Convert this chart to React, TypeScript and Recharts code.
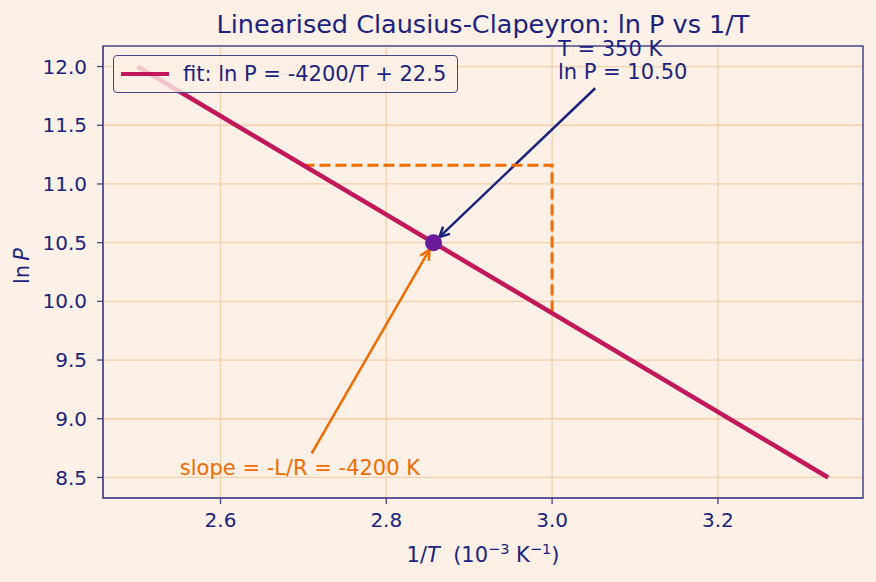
import {
  ComposedChart,
  Scatter,
  XAxis,
  YAxis,
  CartesianGrid,
  ReferenceArea,
  ReferenceLine,
  ReferenceDot,
} from 'recharts';

const BG = '#fdf0e6';
const NAVY = '#1a237e';
const SPINE = '#45458c';
const FIT = '#c2185b';
const ORANGE = '#ef6c00';
const POINT = '#6a1b9a';
const GRID = '#f7d0aa';
const FONT = '"DejaVu Sans", sans-serif';

// axis limits (matplotlib 5% margins around the data)
const X_DOMAIN = [2.4583, 3.375];
const Y_DOMAIN = [8.325, 12.175];
const X_TICKS = [2.6, 2.8, 3.0, 3.2];
const Y_TICKS = [8.5, 9.0, 9.5, 10.0, 10.5, 11.0, 11.5, 12.0];

// fit: ln P = -4200/T + 22.5, endpoints
const FIT_LINE = [
  { x: 2.5, y: 12.0 },
  { x: 3.333, y: 8.5 },
];

// rise / run guide
const SLOPE_GUIDE = [
  { x: 2.7, y: 11.16 },
  { x: 3.0, y: 11.16 },
  { x: 3.0, y: 9.9 },
];

const MARKED = [{ x: 2.857, y: 10.5 }];

const POINT_ARROW_FROM = { x: 3.052, y: 11.815 };
const SLOPE_ARROW_FROM = { x: 2.71, y: 8.705 };
const POINT_LABEL_AT = { x: 3.007, y: 12.09 };
const POINT_LABEL = ['T = 350 K', 'ln P = 10.50'];
const SLOPE_LABEL_AT = { x: 2.551, y: 8.518 };
const SLOPE_LABEL = 'slope = -L/R = -4200 K';
const LEGEND_LABEL = 'fit: ln P = -4200/T + 22.5';

const noDot = () => <g />;

function arrowShape(color: string) {
  return (p: any) => {
    const { x1, y1, x2, y2 } = p;
    const dx = x2 - x1;
    const dy = y2 - y1;
    const len = Math.sqrt(dx * dx + dy * dy) || 1;
    const ux = dx / len;
    const uy = dy / len;
    const shrink = 8;
    const tx = x2 - ux * shrink;
    const ty = y2 - uy * shrink;
    const hl = 10;
    const hw = 5;
    const bx = tx - ux * hl;
    const by = ty - uy * hl;
    return (
      <g>
        <line x1={x1} y1={y1} x2={tx} y2={ty} stroke={color} strokeWidth={2.5} />
        <polyline
          points={`${bx - uy * hw},${by + ux * hw} ${tx},${ty} ${bx + uy * hw},${by - ux * hw}`}
          fill="none"
          stroke={color}
          strokeWidth={2.5}
        />
      </g>
    );
  };
}

export default function App() {
  return (
    <div
      style={{
        position: 'absolute',
        left: 0,
        top: 0,
        width: 876,
        height: 582,
        background: BG,
        fontFamily: FONT,
      }}
    >
      <ComposedChart
        width={876}
        height={582}
        margin={{ top: 46, right: 13, bottom: 0, left: 0 }}
        style={{ fontFamily: FONT }}
      >
        <CartesianGrid stroke={GRID} strokeWidth={1.3} horizontalValues={Y_TICKS} verticalValues={X_TICKS} />
        <XAxis
          type="number"
          dataKey="x"
          domain={X_DOMAIN}
          ticks={X_TICKS}
          allowDataOverflow
          height={84}
          tickSize={6}
          tickMargin={9}
          stroke={SPINE}
          tickLine={{ stroke: SPINE, strokeWidth: 1.3 }}
          tick={{ fill: NAVY, fontSize: 20 }}
          tickFormatter={(v: number) => v.toFixed(1)}
        />
        <YAxis
          type="number"
          dataKey="y"
          domain={Y_DOMAIN}
          ticks={Y_TICKS}
          allowDataOverflow
          width={103}
          tickSize={6}
          tickMargin={10}
          stroke={SPINE}
          tickLine={{ stroke: SPINE, strokeWidth: 1.3 }}
          tick={{ fill: NAVY, fontSize: 20 }}
          tickFormatter={(v: number) => v.toFixed(1)}
        />
        <ReferenceArea
          x1={X_DOMAIN[0]}
          x2={X_DOMAIN[1]}
          y1={Y_DOMAIN[0]}
          y2={Y_DOMAIN[1]}
          fill="none"
          fillOpacity={0}
          stroke={SPINE}
          strokeWidth={1.5}
          ifOverflow="visible"
        />
        <Scatter
          data={SLOPE_GUIDE}
          dataKey="y"
          shape={noDot}
          line={{ stroke: ORANGE, strokeWidth: 3, strokeDasharray: '11 5' }}
          isAnimationActive={false}
        />
        <Scatter
          data={FIT_LINE}
          dataKey="y"
          shape={noDot}
          line={{ stroke: FIT, strokeWidth: 4.5 }}
          isAnimationActive={false}
        />
        <ReferenceLine
          segment={[POINT_ARROW_FROM, MARKED[0]]}
          ifOverflow="visible"
          shape={arrowShape(NAVY)}
        />
        <ReferenceLine
          segment={[SLOPE_ARROW_FROM, MARKED[0]]}
          ifOverflow="visible"
          shape={arrowShape(ORANGE)}
        />
        <Scatter
          data={MARKED}
          dataKey="y"
          fill={POINT}
          shape={(p: any) => <circle cx={p.cx} cy={p.cy} r={8.5} fill={POINT} />}
          isAnimationActive={false}
        />
        <ReferenceDot
          x={POINT_LABEL_AT.x}
          y={POINT_LABEL_AT.y}
          ifOverflow="visible"
          shape={(p: any) => (
            <text x={p.cx} y={p.cy} fill={NAVY} fontSize={21} fontFamily={FONT}>
              {POINT_LABEL.map((t, i) => (
                <tspan key={t} x={p.cx} dy={i === 0 ? 0 : 23.5}>
                  {t}
                </tspan>
              ))}
            </text>
          )}
        />
        <ReferenceDot
          x={SLOPE_LABEL_AT.x}
          y={SLOPE_LABEL_AT.y}
          ifOverflow="visible"
          shape={(p: any) => (
            <text x={p.cx} y={p.cy} fill={ORANGE} fontSize={21} fontFamily={FONT}>
              {SLOPE_LABEL}
            </text>
          )}
        />
      </ComposedChart>

      {/* legend, semi-transparent like matplotlib's framealpha */}
      <div
        style={{
          position: 'absolute',
          left: 113,
          top: 55,
          width: 345,
          height: 38,
          boxSizing: 'border-box',
          border: `1.5px solid ${SPINE}`,
          borderRadius: 4,
          background: 'rgba(253,240,230,0.8)',
          display: 'flex',
          alignItems: 'center',
        }}
      >
        <div style={{ marginLeft: 7, width: 48, height: 4.5, background: FIT }} />
        <span style={{ marginLeft: 14, fontSize: 21, color: NAVY, whiteSpace: 'pre' }}>{LEGEND_LABEL}</span>
      </div>

      <svg
        width={876}
        height={582}
        style={{ position: 'absolute', left: 0, top: 0, pointerEvents: 'none' }}
        fontFamily={FONT}
      >
        <text x={483} y={33} textAnchor="middle" fill={NAVY} fontSize={25.5}>
          Linearised Clausius-Clapeyron: ln P vs 1/T
        </text>
        <text x={483} y={562} textAnchor="middle" fill={NAVY} fontSize={21} style={{ whiteSpace: 'pre' }}>
          <tspan>1/</tspan>
          <tspan fontStyle="italic">T</tspan>
          <tspan>{'  (10'}</tspan>
          <tspan dy={-8} fontSize={14.5}>−3</tspan>
          <tspan dy={8}> K</tspan>
          <tspan dy={-8} fontSize={14.5}>−1</tspan>
          <tspan dy={8}>)</tspan>
        </text>
        <text
          transform="translate(29,266) rotate(-90)"
          textAnchor="middle"
          fill={NAVY}
          fontSize={21}
          style={{ whiteSpace: 'pre' }}
        >
          <tspan>{'ln\u2009'}</tspan>
          <tspan fontStyle="italic">P</tspan>
        </text>
      </svg>
    </div>
  );
}
